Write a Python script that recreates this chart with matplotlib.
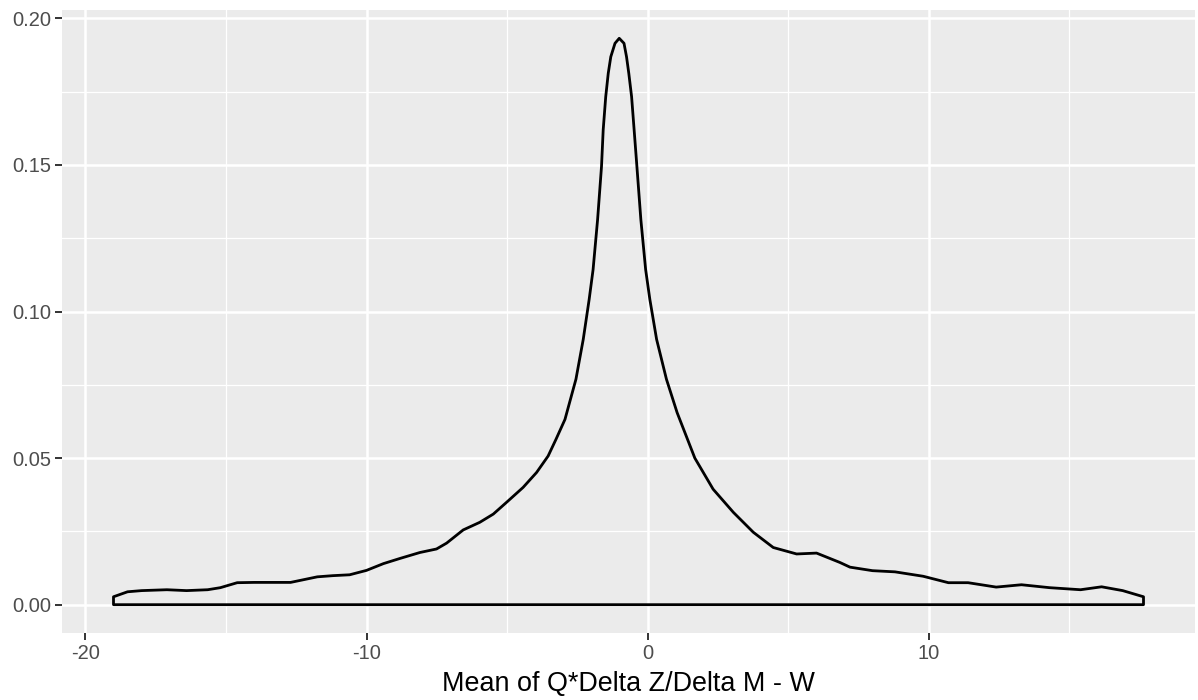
import numpy as np
import matplotlib
matplotlib.use("Agg")
import matplotlib.pyplot as plt

# density curve
dens_x = [-19.0, -18.5, -18.0, -17.1, -16.4, -15.65, -15.2, -14.6, -14.0, -12.7,
          -11.75, -11.2, -10.6, -10.0, -9.4, -8.8, -8.1, -7.51, -7.15, -6.56,
          -5.97, -5.49, -5.02, -4.43, -3.95, -3.54, -3.26, -2.94, -2.55, -2.29,
          -2.08, -1.94, -1.78, -1.64, -1.58, -1.49, -1.40, -1.31, -1.16, -1.01,
          -0.84, -0.75, -0.67, -0.57, -0.48, -0.39, -0.24, -0.07, 0.08, 0.20,
          0.32, 0.67, 1.05, 1.68, 2.33, 3.05, 3.76, 4.47, 5.30, 6.01,
          6.84, 7.2, 8.0, 8.8, 9.8, 10.7, 11.4, 12.4, 13.3, 14.3,
          15.4, 16.15, 16.9, 17.64]
dens_y = [0.0027, 0.0044, 0.0048, 0.0051, 0.0048, 0.0051, 0.0058, 0.0075, 0.0076, 0.0076,
          0.0095, 0.0099, 0.0102, 0.0117, 0.0140, 0.0158, 0.0178, 0.0190, 0.0210, 0.0255,
          0.0281, 0.0309, 0.0349, 0.0400, 0.0451, 0.0507, 0.0564, 0.0632, 0.0769, 0.0905,
          0.1041, 0.1143, 0.1313, 0.1495, 0.1620, 0.1733, 0.1813, 0.1869, 0.1915, 0.1932,
          0.1915, 0.1869, 0.1813, 0.1733, 0.1620, 0.1506, 0.1313, 0.1143, 0.1041, 0.0973,
          0.0905, 0.0769, 0.0655, 0.0500, 0.0394, 0.0315, 0.0247, 0.0195, 0.0173, 0.0176,
          0.0144, 0.0128, 0.0116, 0.0112, 0.0097, 0.0075, 0.0075, 0.0060, 0.0068, 0.0058,
          0.0051, 0.0061, 0.0048, 0.0027]

x_ticks = [-20, -10, 0, 10]
x_minor = [-15, -5, 5, 15]
y_ticks = [0.00, 0.05, 0.10, 0.15, 0.20]
y_minor = [0.025, 0.075, 0.125, 0.175]
x_label = "Mean of Q*Delta Z/Delta M - W"

plt.rcParams['font.family'] = ['Liberation Sans', 'DejaVu Sans']

fig = plt.figure(figsize=(11.98, 7.0), dpi=100)
ax = fig.add_axes([62 / 1198, 67 / 700, 1133 / 1198, 623 / 700])
ax.set_facecolor('#EBEBEB')
for s in ax.spines.values():
    s.set_visible(False)

# closed outline like geom_density
px = np.concatenate([[dens_x[0]], dens_x, [dens_x[-1], dens_x[0]]])
py = np.concatenate([[0.0], dens_y, [0.0, 0.0]])
ax.fill(px, py, facecolor='none', edgecolor='black', linewidth=2.0, joinstyle='round', zorder=3)

xr = dens_x[-1] - dens_x[0]
yr = max(dens_y)
ax.set_xlim(dens_x[0] - 0.05 * xr, dens_x[-1] + 0.05 * xr)
ax.set_ylim(-0.05 * yr, yr * 1.05)

ax.set_xticks(x_ticks)
ax.set_xticklabels([str(v) for v in x_ticks])
ax.set_xticks(x_minor, minor=True)
ax.set_yticks(y_ticks)
ax.set_yticklabels([f"{v:.2f}" for v in y_ticks])
ax.set_yticks(y_minor, minor=True)

ax.grid(which='major', color='white', linewidth=1.8)
ax.grid(which='minor', color='white', linewidth=0.9)
ax.set_axisbelow(True)

ax.tick_params(which='major', length=5, width=1.4, color='#333333',
               labelsize=14.5, labelcolor='#4D4D4D', pad=3)
ax.tick_params(which='minor', length=0)

ax.set_xlabel(x_label, fontsize=19.4, color='black', labelpad=6)

fig.savefig('out.png', dpi=100)
